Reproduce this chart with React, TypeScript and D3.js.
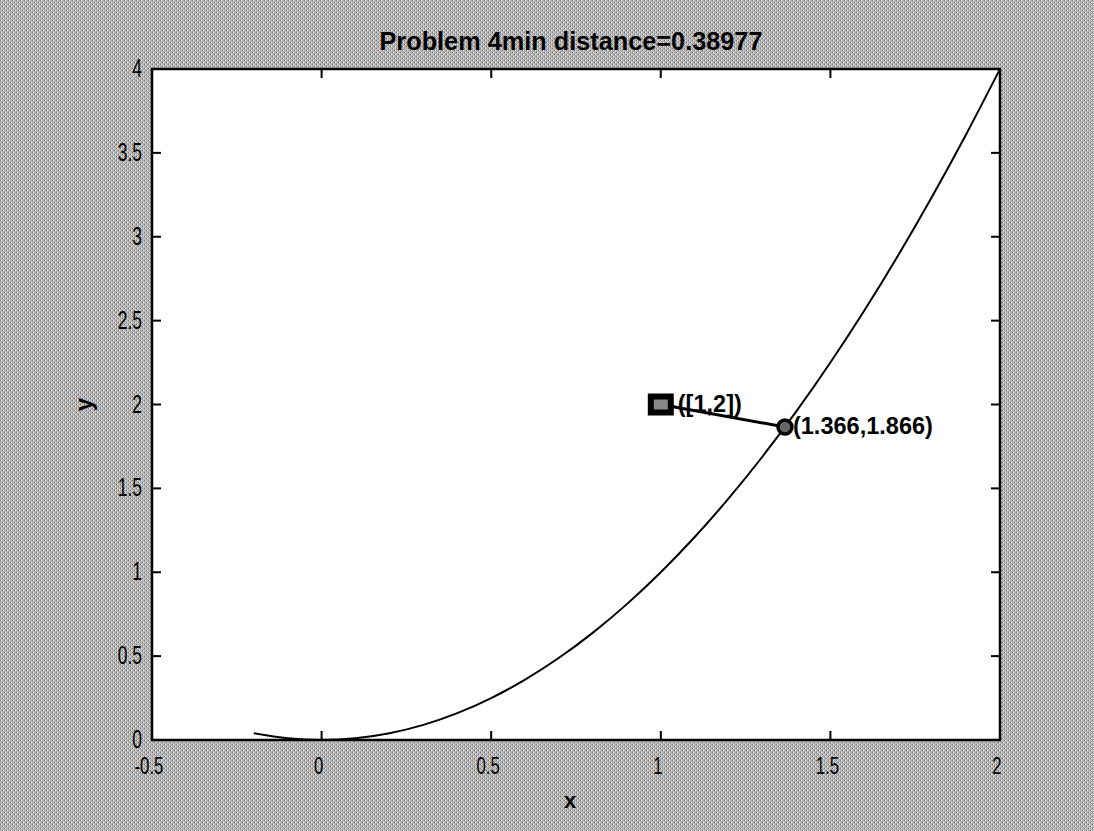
import React from "react";
import * as d3 from "d3";

const curveX = [-0.2, -0.1, 0, 0.1, 0.2, 0.3, 0.4, 0.5, 0.6, 0.7, 0.8, 0.9, 1.0, 1.1, 1.2, 1.3, 1.4, 1.5, 1.6, 1.7, 1.8, 1.9, 2.0];
const curveY = [0.04, 0.01, 0, 0.01, 0.04, 0.09, 0.16, 0.25, 0.36, 0.49, 0.64, 0.81, 1.0, 1.21, 1.44, 1.69, 1.96, 2.25, 2.56, 2.89, 3.24, 3.61, 4.0];
const xTicks = [-0.5, 0, 0.5, 1, 1.5, 2];
const yTicks = [0, 0.5, 1, 1.5, 2, 2.5, 3, 3.5, 4];
const givenPoint = [1, 2];
const nearestPoint = [1.366, 1.866];
const titleText = "Problem 4min distance=0.38977";
const givenLabel = "([1,2])";
const nearestLabel = "(1.366,1.866)";

const W = 1094, H = 831;
const left = 152, right = 1000, top = 69, bottom = 740;

export default function App() {
  const x = d3.scaleLinear().domain([-0.5, 2]).range([left, right]);
  const y = d3.scaleLinear().domain([0, 4]).range([bottom, top]);
  const line = d3.line<number>().x((_, i) => x(curveX[i])).y((d) => y(d)).curve(d3.curveMonotoneX);
  const font = "'Liberation Sans', Arial, sans-serif";
  const tl = 9;
  const sx = 0.7;
  return (
    <svg width={W} height={H} style={{ position: "absolute", left: 0, top: 0 }}>
      <defs>
        <pattern id="dith" width="4" height="4" patternUnits="userSpaceOnUse">
          <rect width="4" height="4" fill="#b4b4b4" />
          <rect x="0" y="0" width="1" height="1" fill="#707070" />
          <rect x="2" y="2" width="1" height="1" fill="#707070" />
          <rect x="1" y="0" width="1" height="1" fill="#eeeeee" />
          <rect x="3" y="2" width="1" height="1" fill="#eeeeee" />
        </pattern>
      </defs>
      <rect width={W} height={H} fill="url(#dith)" />
      <rect x={left} y={top} width={right - left} height={bottom - top} fill="#fff" />
      <path d={line(curveY) || ""} fill="none" stroke="#000" strokeWidth={2} />
      <line x1={x(givenPoint[0])} y1={y(givenPoint[1])} x2={x(nearestPoint[0])} y2={y(nearestPoint[1])} stroke="#000" strokeWidth={3} />
      <rect x={x(givenPoint[0]) - 10} y={y(givenPoint[1]) - 8} width={20} height={16} fill="#888" stroke="#000" strokeWidth={6} />
      <circle cx={x(nearestPoint[0])} cy={y(nearestPoint[1])} r={7} fill="#666" stroke="#000" strokeWidth={3.5} />
      <text x={x(givenPoint[0]) + 17} y={y(givenPoint[1]) + 7} fontFamily={font} fontWeight="bold" fontSize={23} textLength={64} lengthAdjust="spacingAndGlyphs" fill="#000">{givenLabel}</text>
      <text x={x(nearestPoint[0]) + 8} y={y(nearestPoint[1]) + 7} fontFamily={font} fontWeight="bold" fontSize={24} textLength={140} lengthAdjust="spacingAndGlyphs" fill="#000">{nearestLabel}</text>
      {xTicks.map((t) => (
        <g key={"x" + t}>
          <line x1={x(t)} x2={x(t)} y1={bottom} y2={bottom - tl} stroke="#000" strokeWidth={2} />
          <line x1={x(t)} x2={x(t)} y1={top} y2={top + tl} stroke="#000" strokeWidth={2} />
          <g transform={`translate(${x(t) - 3},${bottom + 34}) scale(${sx},1)`}>
            <text x={0} y={0} textAnchor="middle" fontFamily={font} fontSize={24} fill="#000">{t}</text>
          </g>
        </g>
      ))}
      {yTicks.map((t) => (
        <g key={"y" + t}>
          <line x1={left} x2={left + tl} y1={y(t)} y2={y(t)} stroke="#000" strokeWidth={2} />
          <line x1={right} x2={right - tl} y1={y(t)} y2={y(t)} stroke="#000" strokeWidth={2} />
          <g transform={`translate(${left - 10},${y(t) + 8}) scale(${sx},1)`}>
            <text x={0} y={0} textAnchor="end" fontFamily={font} fontSize={25} fill="#000">{t}</text>
          </g>
        </g>
      ))}
      <rect x={left} y={top} width={right - left} height={bottom - top} fill="none" stroke="#000" strokeWidth={2.5} />
      <text x={571} y={50} textAnchor="middle" fontFamily={font} fontWeight="bold" fontSize={26} textLength={383} lengthAdjust="spacingAndGlyphs" fill="#000">{titleText}</text>
      <text x={570} y={808} textAnchor="middle" fontFamily={font} fontWeight="bold" fontSize={22} fill="#000">x</text>
      <text transform={`translate(92,${y(2)}) rotate(-90)`} textAnchor="middle" fontFamily={font} fontWeight="bold" fontSize={24} fill="#000">y</text>
    </svg>
  );
}
